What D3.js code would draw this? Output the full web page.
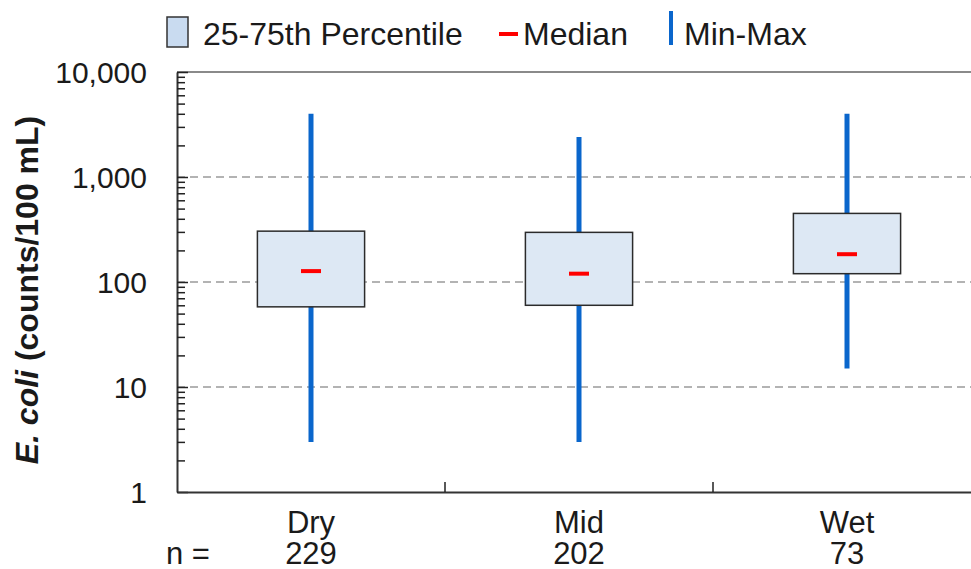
<!DOCTYPE html>
<html>
<head>
<meta charset="utf-8">
<script src="https://cdn.jsdelivr.net/npm/d3@7"></script>
<style>
  html, body { margin: 0; padding: 0; background: #fff; }
  svg { display: block; font-family: "Liberation Sans", Arial, sans-serif; }
</style>
</head>
<body>
<svg id="chart" width="971" height="569"></svg>
<script>
// Flow-condition groups and their E. coli summary statistics (counts/100 mL)
const categories = ["Dry", "Mid", "Wet"];
const sampleCounts = [229, 202, 73];
const minValues = [3, 3, 15];
const q1Values = [58, 60, 120];
const medianValues = [127, 120, 184];
const q3Values = [305, 297, 450];
const maxValues = [4000, 2400, 4000];

const yTickValues = [1, 10, 100, 1000, 10000];
const gridValues = [10, 100, 1000];

const svg = d3.select("#chart");
const plotLeft = 177, plotRight = 981, plotTop = 72, plotBottom = 492;
const textColor = "#1a1a1a";
const tickFont = 30;
const labelFont = 31;
const legendFont = 32;

const x = d3.scaleBand().domain(categories).range([plotLeft, plotRight]).padding(0);
const y = d3.scaleLog().domain([1, 10000]).range([plotBottom, plotTop]);

const data = categories.map((c, i) => ({
  cat: c, n: sampleCounts[i], min: minValues[i], q1: q1Values[i],
  med: medianValues[i], q3: q3Values[i], max: maxValues[i]
}));

// Dashed gridlines at the inner decades
svg.append("g").selectAll("line").data(gridValues).join("line")
  .attr("x1", plotLeft).attr("x2", plotRight)
  .attr("y1", d => y(d)).attr("y2", d => y(d))
  .attr("stroke", "#9a9a9a").attr("stroke-width", 1.5)
  .attr("stroke-dasharray", "8,5");

// Top frame line
svg.append("line")
  .attr("x1", plotLeft).attr("x2", plotRight).attr("y1", y(10000)).attr("y2", y(10000))
  .attr("stroke", "#8a8a8a").attr("stroke-width", 2);

// Log ticks: every 1..9 multiple in each decade, labels only on powers of ten
const allTicks = [];
for (let e = 0; e < 4; e++) for (let m = 1; m < 10; m++) allTicks.push(m * Math.pow(10, e));
allTicks.push(10000);

const yAxis = d3.axisLeft(y)
  .tickValues(allTicks)
  .tickSizeInner(-8)
  .tickSizeOuter(0)
  .tickPadding(30)
  .tickFormat(d => yTickValues.includes(d) ? d3.format(",")(d) : "");

const yg = svg.append("g").attr("transform", `translate(${plotLeft},0)`).call(yAxis);
yg.select(".domain").attr("stroke", "#333").attr("stroke-width", 2);
yg.selectAll(".tick line").attr("stroke", "#222").attr("stroke-width", 1.5)
  .attr("x2", d => yTickValues.includes(d) ? 11 : 8);
yg.selectAll(".tick text")
  .attr("fill", textColor).attr("font-size", tickFont)
  .attr("dy", "0.36em")
  .attr("font-family", "'Liberation Sans', Arial, sans-serif");

// Bottom axis with separators between groups
const xAxis = d3.axisBottom(x).tickSize(0).tickFormat("");
const xg = svg.append("g").attr("transform", `translate(0,${plotBottom})`).call(xAxis);
xg.select(".domain").attr("stroke", "#333").attr("stroke-width", 2);
xg.selectAll(".tick").remove();
svg.append("g").selectAll("line").data(categories.slice(1)).join("line")
  .attr("x1", d => x(d)).attr("x2", d => x(d))
  .attr("y1", plotBottom).attr("y2", plotBottom - 10)
  .attr("stroke", "#222").attr("stroke-width", 1.5);

// Category labels and sample sizes
svg.append("g").selectAll("text").data(data).join("text")
  .attr("x", d => x(d.cat) + x.bandwidth() / 2)
  .attr("y", 533)
  .attr("text-anchor", "middle")
  .attr("font-size", labelFont).attr("fill", textColor)
  .text(d => d.cat);
svg.append("g").selectAll("text").data(data).join("text")
  .attr("x", d => x(d.cat) + x.bandwidth() / 2)
  .attr("y", 564)
  .attr("text-anchor", "middle")
  .attr("font-size", labelFont).attr("fill", textColor)
  .text(d => d.n);
svg.append("text")
  .attr("x", 166).attr("y", 564)
  .attr("font-size", labelFont).attr("fill", textColor)
  .text("n =");

// Boxes, whiskers and medians
const boxW = x.bandwidth() * 0.4;
const groups = svg.append("g").selectAll("g").data(data).join("g")
  .attr("transform", d => `translate(${x(d.cat) + x.bandwidth() / 2},0)`);

groups.append("line")
  .attr("x1", 0).attr("x2", 0)
  .attr("y1", d => y(d.max)).attr("y2", d => y(d.min))
  .attr("stroke", "#0a66cc").attr("stroke-width", 5);

groups.append("rect")
  .attr("x", -boxW / 2).attr("width", boxW)
  .attr("y", d => y(d.q3)).attr("height", d => y(d.q1) - y(d.q3))
  .attr("fill", "#dde8f4").attr("stroke", "#2b2b2b").attr("stroke-width", 1.5);

groups.append("line")
  .attr("x1", -10).attr("x2", 10)
  .attr("y1", d => y(d.med)).attr("y2", d => y(d.med))
  .attr("stroke", "#ff0000").attr("stroke-width", 4);

// Y-axis title
const title = svg.append("text")
  .attr("transform", "translate(38,290) rotate(-90)")
  .attr("text-anchor", "middle")
  .attr("font-size", 32).attr("font-weight", "bold").attr("fill", textColor);
title.append("tspan").attr("font-style", "italic").text("E. coli");
title.append("tspan").text(" (counts/100 mL)");

// Legend
const legend = svg.append("g");
legend.append("rect")
  .attr("x", 167).attr("y", 17).attr("width", 21).attr("height", 30)
  .attr("fill", "#c9dbf0").attr("stroke", "#333").attr("stroke-width", 1.5);
legend.append("text").attr("x", 203).attr("y", 45)
  .attr("font-size", legendFont).attr("fill", textColor).text("25-75th Percentile");
legend.append("line")
  .attr("x1", 499).attr("x2", 518).attr("y1", 34).attr("y2", 34)
  .attr("stroke", "#ff0000").attr("stroke-width", 4);
legend.append("text").attr("x", 523).attr("y", 45)
  .attr("font-size", legendFont).attr("fill", textColor).text("Median");
legend.append("line")
  .attr("x1", 671).attr("x2", 671).attr("y1", 11).attr("y2", 45)
  .attr("stroke", "#0a66cc").attr("stroke-width", 4);
legend.append("text").attr("x", 684).attr("y", 45)
  .attr("font-size", legendFont).attr("fill", textColor).text("Min-Max");
</script>
</body>
</html>
